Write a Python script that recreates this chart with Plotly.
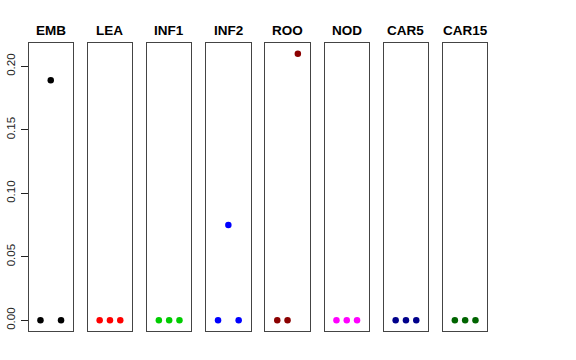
import plotly.graph_objects as go

categories = ["EMB", "LEA", "INF1", "INF2", "ROO", "NOD", "CAR5", "CAR15"]
x_positions = [1, 2, 3]
values = {
    "EMB": [0.0, 0.189, 0.0],
    "LEA": [0.0, 0.0, 0.0],
    "INF1": [0.0, 0.0, 0.0],
    "INF2": [0.0, 0.075, 0.0],
    "ROO": [0.0, 0.0, 0.21],
    "NOD": [0.0, 0.0, 0.0],
    "CAR5": [0.0, 0.0, 0.0],
    "CAR15": [0.0, 0.0, 0.0],
}
colors = ["#000000", "#FF0000", "#00CD00", "#0000FF", "#8B0000", "#FF00FF", "#00008B", "#006400"]
y_ticks = [0.0, 0.05, 0.10, 0.15, 0.20]
y_tick_labels = ["0.00", "0.05", "0.10", "0.15", "0.20"]

W, H = 576, 360
left0, step, pw = 28.5, 59.2, 44.5
top_px, bot_px = 43, 331
y0 = (H - bot_px) / H
y1 = (H - top_px) / H

fig = go.Figure()
layout = dict(
    width=W, height=H,
    margin=dict(l=0, r=0, t=0, b=0, autoexpand=False),
    paper_bgcolor="white", plot_bgcolor="white",
    showlegend=False,
    font=dict(family="Liberation Sans, Arial, sans-serif", color="black"),
)
annotations = []
for i, cat in enumerate(categories):
    xa = "xaxis" if i == 0 else f"xaxis{i+1}"
    ya = "yaxis" if i == 0 else f"yaxis{i+1}"
    xr = "x" if i == 0 else f"x{i+1}"
    yr = "y" if i == 0 else f"y{i+1}"
    l = (left0 + step * i) / W
    r = (left0 + step * i + pw) / W
    layout[xa] = dict(domain=[l, r], range=[-0.16, 4.16], showgrid=False, zeroline=False,
                      showticklabels=False, ticks="", showline=True, mirror=True,
                      linecolor="#444444", linewidth=1, anchor=yr, fixedrange=True,
                      automargin=False)
    ydict = dict(domain=[y0, y1], range=[-0.0084, 0.2184], showgrid=False, zeroline=False,
                 showline=True, mirror=True, linecolor="#444444", linewidth=1, anchor=xr,
                 automargin=False, fixedrange=True)
    if i == 0:
        ydict.update(tickvals=y_ticks, ticktext=y_tick_labels, ticks="outside", ticklen=7,
                     tickcolor="#222222", tickangle=-90, tickfont=dict(size=11.5, color="#222222"),
                     ticklabelstandoff=1)
    else:
        ydict.update(showticklabels=False, ticks="")
    layout[ya] = ydict
    fig.add_trace(go.Scatter(x=x_positions, y=values[cat], mode="markers",
                             marker=dict(color=colors[i], size=6.5, line=dict(width=0)),
                             xaxis=xr, yaxis=yr, cliponaxis=False, hoverinfo="skip"))
    annotations.append(dict(text=f"<b>{cat}</b>", x=(l + r) / 2, y=(H - 30) / H,
                            xref="paper", yref="paper", showarrow=False,
                            font=dict(size=13.5, color="black"), xanchor="center", yanchor="middle"))
layout["annotations"] = annotations
fig.update_layout(**layout)
fig.write_html("out.html", config={"displayModeBar": False},
               post_script="document.body.style.margin='0';")
